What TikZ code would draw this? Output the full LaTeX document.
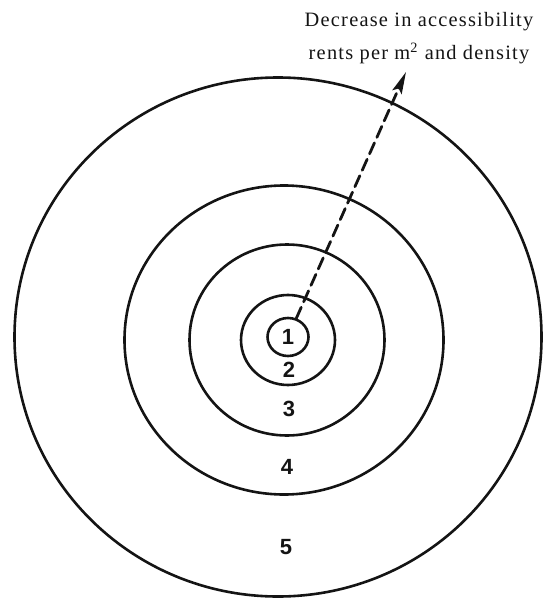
\documentclass[tikz,border=0pt]{standalone}
\usepackage{fontspec}
\setmainfont{Liberation Serif}
\newfontfamily\zonefont{Liberation Sans}
\usetikzlibrary{arrows.meta, shapes.geometric, positioning}
\definecolor{ink}{HTML}{141414}
\tikzset{ring/.style={draw=ink, ellipse, line width=1.3pt, inner sep=0pt},
  zone/.style={font=\zonefont\bfseries\fontsize{11}{13}\selectfont, text=ink, inner sep=0pt},
  note/.style={font=\addfontfeatures{LetterSpace=6}\fontsize{10.2}{16.5}\selectfont, text=ink, align=center, inner sep=0pt},
  trend/.style={ink, line width=1.4pt, dash pattern=on 6pt off 3pt, -{Stealth[length=11pt, width=5pt, inset=2pt]}}}
\begin{document}
\begin{tikzpicture}[x=0.5pt, y=-0.5pt, line cap=round, line join=round]
  \useasboundingbox (0,0) rectangle (544,599);
  % concentric zones, centre outwards
  \foreach \n/\cx/\cy/\w/\h in {1/288/337/20.5/19, 2/288/340/47/45, 3/287/340/97.5/95.5, 4/284/340/159.5/154.5, 5/278/337/263.5/259.5}
    {\node[ring, minimum width=\w pt, minimum height=\h pt] (r\n) at (\cx,\cy) {};}
  \node[zone] (z1) at (r1) {1};
  \foreach \n/\zx/\zy in {2/289/370, 3/289/409, 4/287/467, 5/286/547}{\node[zone] (z\n) at (\zx,\zy) {\n};}
  % gradient arrow
  \coordinate (tip) at (406,72);
  \draw[trend] (r1) -- (tip);
  \node[note, anchor=base] (label) at (419,60) {Decrease in accessibility\\rents per m\textsuperscript{2} and density};
\end{tikzpicture}
\end{document}
